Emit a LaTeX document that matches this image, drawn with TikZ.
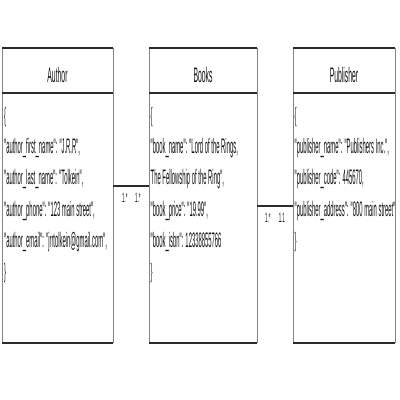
\documentclass[tikz,border=0pt]{standalone}
\usepackage{fontspec}
\newfontfamily\umlfont[FakeStretch=0.28]{Liberation Sans}
\newfontfamily\umltitlefont[FakeStretch=0.325]{Liberation Sans}
\usetikzlibrary{positioning}
\definecolor{edgedark}{HTML}{2B2B2B}
\definecolor{edgegray}{HTML}{858585}
\definecolor{textdark}{HTML}{111111}
\tikzset{
    region/.style = {rectangle, inner sep=0pt, outer sep=0pt,
        minimum width=#1},
    headregion/.style = {region=#1, minimum height=45pt},
    bodyregion/.style = {region=#1, minimum height=250pt},
    headtext/.style = {inner sep=0pt, text=textdark,
        font=\umltitlefont\fontsize{21}{25}\selectfont},
    fieldtext/.style = {inner sep=0pt, anchor=north west, align=left,
        text=textdark, font=\umlfont\fontsize{21}{31.2}\selectfont},
    heavyline/.style = {draw=edgedark, line width=2pt},
    sideline/.style = {draw=edgegray, line width=0.8pt},
    link/.style = {draw=edgedark, line width=2pt},
    multiplicity/.style = {below=6pt, inner sep=0pt, text=textdark,
        font=\umltitlefont\fontsize{13.5}{15}\selectfont},
}
\begin{document}
\begin{tikzpicture}[x=1pt,y=-1pt]
\useasboundingbox (0,0) rectangle (400,400);
% class regions
\node [headregion=111pt] (author) at (57.5,70.5) {};
\node [bodyregion=111pt, below=0pt of author] (authorbody) {};
\node [headregion=108pt] (books) at (203,70.5) {};
\node [bodyregion=108pt, below=0pt of books] (booksbody) {};
\node [headregion=102pt] (publisher) at (344,70.5) {};
\node [bodyregion=102pt, below=0pt of publisher] (publisherbody) {};
% frames
\foreach \cls in {author,books,publisher}{
    \draw [sideline] (\cls.north west) -- (\cls body.south west);
    \draw [sideline] (\cls.north east) -- (\cls body.south east);
    \draw [heavyline] (\cls.north west) -- (\cls.north east);
    \draw [heavyline] (\cls.south west) -- (\cls.south east);
    \draw [heavyline] (\cls body.south west) -- (\cls body.south east);
}
% titles
\node [headtext, yshift=-4pt] (authorname) at (author) {Author};
\node [headtext, yshift=-4pt] (booksname) at (books) {Books};
\node [headtext, yshift=-4pt] (publishername) at (publisher) {Publisher};
% fields
\node [fieldtext] (authortext) at ([xshift=2pt,yshift=-14pt]authorbody.north west)
    {\{\\
    "author\_first\_name": "J.R.R",\\
    "author\_last\_name": "Tolkein",\\
    "author\_phone": "123 main street",\\
    "author\_email": "jrrtolkein@gmail.com",\\
    \}};
\node [fieldtext] (bookstext) at ([xshift=1.5pt,yshift=-14pt]booksbody.north west)
    {\{\\
    "book\_name": "Lord of the Rings,\\
    The Fellowship of the Ring",\\
    "book\_price": "19.99",\\
    "book\_isbn": 12338855766\\
    \}};
\node [fieldtext] (publishertext) at ([xshift=1.5pt,yshift=-14pt]publisherbody.north west)
    {\{\\
    "publisher\_name": "Publishers Inc.",\\
    "publisher\_code": 445670,\\
    "publisher\_address": "800 main street"\\
    \}};
% associations
\draw [link] ([yshift=32pt]authorbody.east) -- ([yshift=32pt]booksbody.west)
    node [multiplicity, pos=0.33] (authormult) {1.*}
    node [multiplicity, pos=0.69] (booksmulta) {1.*};
\draw [link] ([yshift=12pt]booksbody.east) -- ([yshift=12pt]publisherbody.west)
    node [multiplicity, pos=0.30] (booksmultb) {1.*}
    node [multiplicity, pos=0.69] (publishermult) {1.1};
\end{tikzpicture}
\end{document}
